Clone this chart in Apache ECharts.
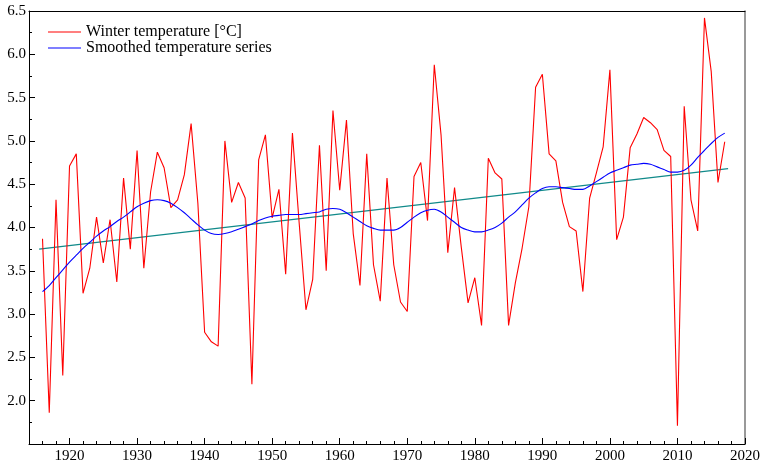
<!DOCTYPE html>
<html>
<head>
<meta charset="utf-8">
<script src="https://cdn.jsdelivr.net/npm/echarts@6/dist/echarts.min.js"></script>
<style>
html,body{margin:0;padding:0;background:#fff;}
#chart{width:763px;height:464px;}
</style>
</head>
<body>
<div id="chart"></div>
<script>
var firstYear = 1916;
var winterTemp = [
  3.87, 1.86, 4.32, 2.29, 4.71, 4.85, 3.24, 3.53, 4.12, 3.59,
  4.09, 3.37, 4.57, 3.75, 4.89, 3.53, 4.41, 4.87, 4.69, 4.23,
  4.32, 4.61, 5.20, 4.28, 2.79, 2.68, 2.63, 5.00, 4.29, 4.52,
  4.34, 2.19, 4.78, 5.07, 4.11, 4.44, 3.46, 5.09, 4.05, 3.05,
  3.40, 4.95, 3.50, 5.35, 4.43, 5.24, 3.93, 3.33, 4.85, 3.57,
  3.15, 4.57, 3.57, 3.14, 3.03, 4.59, 4.75, 4.08, 5.88, 5.07,
  3.71, 4.46, 3.77, 3.13, 3.42, 2.87, 4.80, 4.63, 4.56, 2.87,
  3.36, 3.76, 4.24, 5.62, 5.77, 4.85, 4.77, 4.29, 4.01, 3.96,
  3.26, 4.34, 4.63, 4.93, 5.82, 3.86, 4.12, 4.92, 5.08, 5.27,
  5.21, 5.13, 4.89, 4.82, 1.71, 5.40, 4.32, 3.96, 6.42, 5.80,
  4.52, 4.99
];
var smoothedTemp = [
  3.26, 3.33, 3.42, 3.51, 3.60, 3.68, 3.76, 3.83, 3.90, 3.96,
  4.01, 4.07, 4.12, 4.18, 4.24, 4.28, 4.31, 4.32, 4.31, 4.28,
  4.23, 4.17, 4.10, 4.03, 3.97, 3.93, 3.92, 3.93, 3.95, 3.98,
  4.01, 4.04, 4.08, 4.11, 4.13, 4.14, 4.15, 4.15, 4.15, 4.16,
  4.17, 4.18, 4.21, 4.22, 4.21, 4.17, 4.12, 4.07, 4.02, 3.99,
  3.97, 3.97, 3.97, 4.00, 4.06, 4.12, 4.17, 4.20, 4.21, 4.18,
  4.12, 4.06, 4.00, 3.97, 3.95, 3.95, 3.97, 4.00, 4.05, 4.12,
  4.18, 4.26, 4.34, 4.40, 4.45, 4.47, 4.47, 4.46, 4.45, 4.44,
  4.44, 4.48, 4.53, 4.58, 4.63, 4.66, 4.69, 4.72, 4.73, 4.74,
  4.73, 4.70, 4.67, 4.64, 4.64, 4.66, 4.72, 4.81, 4.89, 4.97,
  5.04, 5.09
];
var trendYears = [1915.5, 2017.5];
var trendValues = [3.75, 4.68];
var xMajorTicks = [1920, 1930, 1940, 1950, 1960, 1970, 1980, 1990, 2000, 2010, 2020];
var yLabelTicks = [2.0, 2.5, 3.0, 3.5, 4.0, 4.5, 5.0, 5.5, 6.0, 6.5];

var xMinorTicks = [];
for (var t = 1916; t <= 2018; t += 2) xMinorTicks.push(t);

function pairs(vals) {
  return vals.map(function (v, i) { return [firstYear + i, v]; });
}
var trendData = trendYears.map(function (y, i) { return [y, trendValues[i]]; });

var font = "'Liberation Serif', 'Times New Roman', serif";
var chart = echarts.init(document.getElementById('chart'), null, {renderer: 'canvas'});
chart.setOption({
  animation: false,
  backgroundColor: '#fff',
  textStyle: {fontFamily: font},
  grid: {left: 29, right: 17, top: 11, bottom: 20, containLabel: false},
  legend: {
    orient: 'vertical', left: 48, top: 24, padding: 0,
    icon: 'rect', itemWidth: 33, itemHeight: 1.2, itemGap: 0,
    data: ['Winter temperature [°C]', 'Smoothed temperature series'],
    textStyle: {fontFamily: font, fontSize: 16, color: '#000', lineHeight: 14}
  },
  xAxis: [
    {
      type: 'value', min: 1914, max: 2020, position: 'bottom',
      axisLine: {show: true, lineStyle: {color: '#000', width: 1}},
      axisTick: {show: true, inside: true, length: 6, customValues: xMajorTicks, lineStyle: {color: '#000'}},
      axisLabel: {show: true, customValues: xMajorTicks, margin: 5, color: '#000', fontFamily: font, fontSize: 15,
        formatter: function (v) { return String(Math.round(v)); }},
      splitLine: {show: false}
    },
    {
      type: 'value', min: 1914, max: 2020, position: 'bottom',
      axisLine: {show: false},
      axisTick: {show: true, inside: true, length: 3, customValues: xMinorTicks, lineStyle: {color: '#000'}},
      axisLabel: {show: false},
      splitLine: {show: false}
    },
    {
      type: 'value', min: 1914, max: 2020, position: 'top',
      axisLine: {show: true, lineStyle: {color: '#000', width: 1}},
      axisTick: {show: false}, axisLabel: {show: false}, splitLine: {show: false}
    }
  ],
  yAxis: [
    {
      type: 'value', min: 1.5, max: 6.5, interval: 0.5,
      axisLine: {show: true, lineStyle: {color: '#000', width: 1}},
      axisTick: {show: true, inside: true, length: 6, lineStyle: {color: '#000'}},
      minorTick: {show: true, splitNumber: 2, length: 3, lineStyle: {color: '#000'}},
      axisLabel: {
        show: true, customValues: yLabelTicks, margin: 3, color: '#000', fontFamily: font, fontSize: 15,
        formatter: function (v) { return Number(v).toFixed(1); }
      },
      splitLine: {show: false}, minorSplitLine: {show: false}
    },
    {
      type: 'value', min: 1.5, max: 6.5, position: 'right',
      axisLine: {show: true, lineStyle: {color: '#777', width: 1.5}},
      axisTick: {show: false}, axisLabel: {show: false}, splitLine: {show: false}
    }
  ],
  series: [
    {
      name: 'Winter temperature [°C]', type: 'line', data: pairs(winterTemp),
      symbol: 'none', lineStyle: {color: '#ff0000', width: 1.1}, itemStyle: {color: '#ff0000'}, z: 3
    },
    {
      name: 'Smoothed temperature series', type: 'line', data: pairs(smoothedTemp),
      symbol: 'none', smooth: 0.3, lineStyle: {color: '#0000ff', width: 1.1}, itemStyle: {color: '#0000ff'}, z: 4
    },
    {
      name: 'Trend', type: 'line', data: trendData,
      symbol: 'none', lineStyle: {color: '#108a8a', width: 1.1}, itemStyle: {color: '#108a8a'}, z: 2
    }
  ]
});
</script>
</body>
</html>
